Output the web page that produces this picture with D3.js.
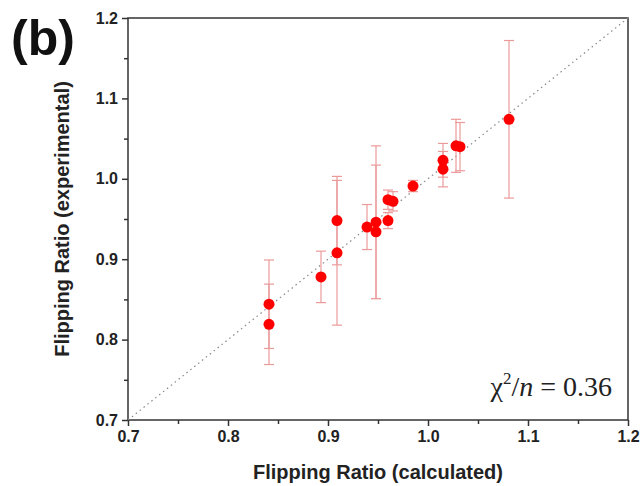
<!DOCTYPE html>
<html>
<head>
<meta charset="utf-8">
<script src="https://cdn.jsdelivr.net/npm/d3@7"></script>
<style>
    body { margin: 0; background: #fff; }
    svg { display: block; }
    .tick text { font-family: Arial, "Liberation Sans", sans-serif; font-weight: bold; font-size: 16px; fill: #222; }
</style>
</head>
<body>
<svg width="641" height="486"></svg>
<script>
// calculated flipping ratio (x), experimental (y) and its error
var calc = [0.841, 0.841, 0.893, 0.909, 0.909, 0.939, 0.948, 0.948, 0.960, 0.960, 0.965, 0.985, 1.015, 1.015, 1.028, 1.032, 1.081];
var expt = [0.844, 0.819, 0.878, 0.948, 0.908, 0.940, 0.946, 0.934, 0.974, 0.948, 0.972, 0.991, 1.023, 1.012, 1.041, 1.040, 1.074];
var errs = [0.055, 0.050, 0.032, 0.055, 0.090, 0.028, 0.095, 0.083, 0.012, 0.010, 0.012, 0.007, 0.021, 0.022, 0.033, 0.030, 0.098];
var majorTicks = [0.7, 0.8, 0.9, 1.0, 1.1, 1.2];
var minorTicks = [0.75, 0.85, 0.95, 1.05, 1.15];

(function () {
    var svg = d3.select("svg"),
        margin = {top: 18, right: 13, bottom: 66, left: 128},
        width = svg.attr("width") - margin.left - margin.right,
        height = svg.attr("height") - margin.top - margin.bottom,
        g = svg.append("g").attr("transform", "translate(" + margin.left + "," + margin.top + ")");

    var x = d3.scaleLinear().domain([0.7, 1.2]).range([0, width]),
        y = d3.scaleLinear().domain([0.7, 1.2]).range([height, 0]);

    var data = calc.map(function (c, i) {
        return {x: c, y: expt[i], e: errs[i]};
    });

    var axisColor = "#333";

    // frame
    g.append("rect")
        .attr("width", width).attr("height", height)
        .attr("fill", "none").attr("stroke", axisColor).attr("stroke-width", 1.5);

    // y = x reference line
    g.append("line")
        .attr("x1", x(0.7)).attr("y1", y(0.7))
        .attr("x2", x(1.2)).attr("y2", y(1.2))
        .attr("stroke", "#888").attr("stroke-width", 1.2)
        .attr("stroke-dasharray", "1.5,3.5");

    var fmt = d3.format(".1f");

    g.append("g").attr("transform", "translate(0," + height + ")")
        .call(d3.axisBottom(x).tickValues(majorTicks).tickFormat(fmt).tickSize(6).tickPadding(5));
    g.append("g").attr("transform", "translate(0," + height + ")")
        .call(d3.axisBottom(x).tickValues(minorTicks).tickFormat("").tickSize(4));

    g.append("g")
        .call(d3.axisLeft(y).tickValues(majorTicks).tickFormat(fmt).tickSize(6).tickPadding(4));
    g.append("g")
        .call(d3.axisLeft(y).tickValues(minorTicks).tickFormat("").tickSize(4));

    g.selectAll(".domain").remove();
    g.selectAll(".tick line").attr("stroke", axisColor).attr("stroke-width", 1.5);

    // error bars
    var eb = g.append("g").attr("stroke", "#eb9a9a").attr("stroke-width", 1.2);
    data.forEach(function (d) {
        eb.append("line")
            .attr("x1", x(d.x)).attr("x2", x(d.x))
            .attr("y1", y(d.y + d.e)).attr("y2", y(d.y - d.e));
        [d.y + d.e, d.y - d.e].forEach(function (v) {
            eb.append("line")
                .attr("x1", x(d.x) - 5).attr("x2", x(d.x) + 5)
                .attr("y1", y(v)).attr("y2", y(v));
        });
    });

    g.selectAll(".pt")
        .data(data)
        .enter().append("circle")
        .attr("class", "pt")
        .attr("cx", function (d) { return x(d.x); })
        .attr("cy", function (d) { return y(d.y); })
        .attr("r", 5.5)
        .attr("fill", "#ff0000");

    // axis titles
    svg.append("text")
        .attr("x", margin.left + width / 2).attr("y", 479)
        .attr("text-anchor", "middle")
        .style("font", "bold 20px Arial, 'Liberation Sans', sans-serif")
        .attr("fill", "#222")
        .text("Flipping Ratio (calculated)");

    svg.append("text")
        .attr("transform", "translate(69," + (margin.top + height / 2) + ") rotate(-90)")
        .attr("text-anchor", "middle")
        .style("font", "bold 20px Arial, 'Liberation Sans', sans-serif")
        .attr("fill", "#222")
        .text("Flipping Ratio (experimental)");

    svg.append("text")
        .attr("x", 11).attr("y", 55)
        .style("font", "bold 50px Arial, 'Liberation Sans', sans-serif")
        .attr("fill", "#111")
        .text("(b)");

    // chi-square annotation
    var chi = svg.append("text")
        .attr("x", 612).attr("y", 396)
        .attr("text-anchor", "end")
        .style("font", "28px 'Liberation Serif', 'DejaVu Serif', serif")
        .attr("fill", "#222");
    chi.append("tspan").text("\u03c7");
    chi.append("tspan").attr("dy", -12).style("font-size", "17px").text("2");
    chi.append("tspan").attr("dy", 12).text("/");
    chi.append("tspan").style("font-style", "italic").text("n");
    chi.append("tspan").text(" = 0.36");
})();
</script>
</body>
</html>
